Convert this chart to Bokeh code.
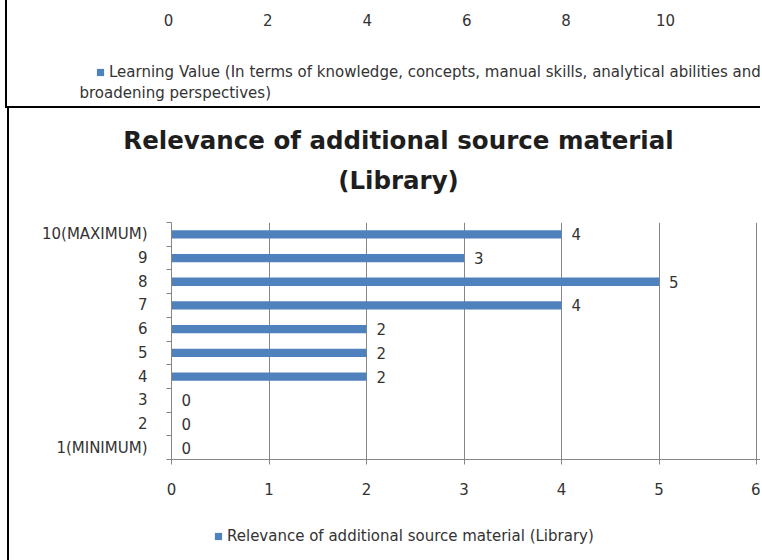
from bokeh.plotting import figure
from bokeh.models import (ColumnDataSource, Range1d, FixedTicker, Legend, LegendItem,
                          Label, LabelSet)
from bokeh.embed import file_html
from bokeh.resources import INLINE
from bokeh.core.properties import value

# ---------------- data ----------------
categories = ["1(MINIMUM)", "2", "3", "4", "5", "6", "7", "8", "9", "10(MAXIMUM)"]
library_counts = [0, 0, 0, 2, 2, 2, 4, 5, 3, 4]
series_name = "Relevance of additional source material (Library)"
title_line1 = "Relevance of additional source material"
title_line2 = "(Library)"
main_x_ticks = [0, 1, 2, 3, 4, 5, 6]

prev_legend_line1 = "Learning Value (In terms of knowledge, concepts, manual skills, analytical abilities and"
prev_legend_line2 = "broadening perspectives)"
prev_x_ticks = [0, 2, 4, 6, 8, 10, 12]
prev_values = [float("nan")]          # bars of the previous chart lie outside the visible crop

BLUE = "#4F81BD"
GRID = "#868686"
TXT = "#333333"
FONT = "DejaVu Sans"
FS = "15px"
LOWER = {"margin-left": "7px", "border-left": "2px solid black"}
COMMON = dict(output_backend="svg", toolbar_location=None)

# ---------------- A: bottom of the previous chart ----------------
top = figure(width=755, height=108, x_range=Range1d(-3.239, 11.952), y_range=Range1d(0, 1),
             x_axis_location="above", y_axis_location=None,
             min_border_left=0, min_border_right=0, min_border_top=30, min_border_bottom=0,
             styles={"margin-left": "5px", "border-left": "2px solid black",
                     "border-bottom": "2px solid black"}, **COMMON)
top.outline_line_color = None
top.grid.visible = False
top.xaxis.ticker = FixedTicker(ticks=prev_x_ticks)
top.xaxis.axis_line_color = None
top.xaxis.major_tick_line_color = None
top.xaxis.minor_tick_line_color = None
top.xaxis.major_tick_out = 0
top.xaxis.major_tick_in = 0
top.xaxis.major_label_standoff = 5
top.xaxis.major_label_text_font = FONT
top.xaxis.major_label_text_font_size = FS
top.xaxis.major_label_text_color = TXT

prev_src = ColumnDataSource(dict(x=prev_values, y=prev_values))
prev_r = top.scatter(x="x", y="y", source=prev_src, marker="square", size=7,
                     fill_color=BLUE, line_color=None)
top.add_layout(Legend(items=[LegendItem(label=prev_legend_line1, renderers=[prev_r])],
                      location=(84, 27), border_line_color=None, background_fill_alpha=0,
                      padding=0, margin=0, glyph_width=18, glyph_height=18, label_standoff=0,
                      label_height=18, label_text_font=FONT, label_text_font_size=FS,
                      label_text_color=TXT))
top.add_layout(Label(x=72, y=16, x_units="screen", y_units="screen", text=prev_legend_line2,
                     text_align="left", text_baseline="middle", text_font=FONT,
                     text_font_size=FS, text_color=TXT))

# ---------------- B: title ----------------
tfig = figure(width=753, height=100, x_range=Range1d(0, 753), y_range=Range1d(0, 100),
              x_axis_location=None, y_axis_location=None,
              min_border_left=0, min_border_right=0, min_border_top=0, min_border_bottom=0,
              styles=LOWER, **COMMON)
tfig.outline_line_color = None
tfig.grid.visible = False
for txt, yy in [(title_line1, 68), (title_line2, 28)]:
    tfig.add_layout(Label(x=389, y=yy, text=txt, text_align="center", text_baseline="middle",
                          text_font=FONT, text_font_size="24.5px", text_font_style="bold",
                          text_color="#1e1e1e"))

# ---------------- C: main chart ----------------
ypos = list(range(1, len(categories) + 1))
src = ColumnDataSource(dict(y=ypos, v=library_counts, lab=[str(v) for v in library_counts]))

p = figure(width=753, height=302, x_range=Range1d(0, 6.06), y_range=Range1d(0.5, len(categories) + 0.5),
           min_border_left=162, min_border_right=0, min_border_top=14, min_border_bottom=51,
           styles=LOWER, **COMMON)
p.outline_line_color = None
p.ygrid.visible = False
p.xgrid.grid_line_color = GRID
p.xgrid.grid_line_width = 1
p.xgrid.ticker = FixedTicker(ticks=main_x_ticks)

bars = p.hbar(y="y", right="v", left=0, height=0.35, source=src,
              fill_color=BLUE, line_color=None)
p.add_layout(LabelSet(x="v", y="y", text="lab", source=src, x_offset=10,
                      text_baseline="middle", text_align="left",
                      text_font=value(FONT), text_font_size=value(FS), text_color=TXT))

p.xaxis.ticker = FixedTicker(ticks=main_x_ticks)
p.xaxis.axis_line_color = GRID
p.xaxis.major_tick_line_color = GRID
p.xaxis.major_tick_out = 5
p.xaxis.major_tick_in = 0
p.xaxis.minor_tick_line_color = None
p.xaxis.major_label_standoff = 18
p.xaxis.major_label_text_font = FONT
p.xaxis.major_label_text_font_size = FS
p.xaxis.major_label_text_color = TXT

p.yaxis.ticker = FixedTicker(ticks=ypos, minor_ticks=[y - 0.5 for y in ypos] + [ypos[-1] + 0.5])
p.yaxis.major_label_overrides = {y: c for y, c in zip(ypos, categories)}
p.yaxis.axis_line_color = GRID
p.yaxis.major_tick_out = 0
p.yaxis.major_tick_in = 0
p.yaxis.minor_tick_line_color = GRID
p.yaxis.minor_tick_out = 5
p.yaxis.minor_tick_in = 0
p.yaxis.major_label_standoff = 19
p.yaxis.major_label_text_font = FONT
p.yaxis.major_label_text_font_size = FS
p.yaxis.major_label_text_color = TXT

# ---------------- D: legend of the main chart ----------------
lfig = figure(width=753, height=50, x_range=p.x_range, y_range=Range1d(-20, -19),
              x_axis_location=None, y_axis_location=None,
              min_border_left=0, min_border_right=0, min_border_top=0, min_border_bottom=0,
              styles=LOWER, **COMMON)
lfig.outline_line_color = None
lfig.grid.visible = False
swatch = lfig.scatter(x="v", y="y", source=src, marker="square", size=7,
                      fill_color=BLUE, line_color=None)
lfig.add_layout(Legend(items=[LegendItem(label=series_name, renderers=[swatch])],
                       location=(200, 15), border_line_color=None, background_fill_alpha=0,
                       padding=0, margin=0, glyph_width=18, glyph_height=18, label_standoff=0,
                       label_height=18, label_text_font=FONT, label_text_font_size=FS,
                       label_text_color=TXT))

open("out.html", "w").write(file_html([top, tfig, p, lfig], INLINE))
